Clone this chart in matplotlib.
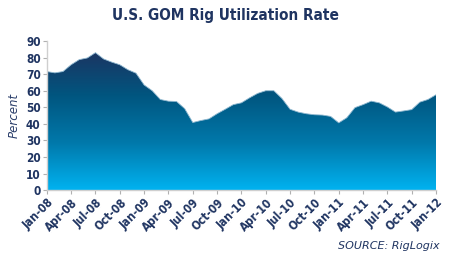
import numpy as np
import matplotlib
matplotlib.use("Agg")
import matplotlib.pyplot as plt
from matplotlib.colors import LinearSegmentedColormap

# monthly utilization, Jan-08 .. Jan-12 (percent)
util = [71.6, 70.8, 71.6, 75.7, 78.8, 79.8, 83.0, 79.2, 77.3, 75.7, 72.7, 70.6,
        63.5, 60.0, 54.7, 53.7, 53.5, 49.2, 40.8, 42.0, 43.0, 46.1, 48.8, 51.6,
        52.7, 55.7, 58.4, 60.0, 60.0, 55.3, 48.8, 47.1, 46.1, 45.5, 45.3, 44.5,
        40.6, 43.7, 49.8, 51.6, 53.7, 52.7, 50.2, 47.1, 47.8, 48.6, 53.1, 54.7,
        57.6]
tick_labels = ["Jan-08", "Apr-08", "Jul-08", "Oct-08", "Jan-09", "Apr-09",
               "Jul-09", "Oct-09", "Jan-10", "Apr-10", "Jul-10", "Oct-10",
               "Jan-11", "Apr-11", "Jul-11", "Oct-11", "Jan-12"]
yticks = [0, 10, 20, 30, 40, 50, 60, 70, 80, 90]

NAVY = "#1f3461"
months = np.arange(len(util))

fig = plt.figure(figsize=(4.5, 2.6), dpi=100)
ax = fig.add_axes([0.104, 0.269, 0.865, 0.573])

# gradient fill clipped to the area under the curve
poly = ax.fill_between(months, 0, util, color="none", lw=0)
cmap = LinearSegmentedColormap.from_list(
    "rig", ["#00b2f0", "#0079ab", "#005680", "#1d3360"])
grad = np.linspace(0, 1, 256).reshape(-1, 1)
im = ax.imshow(grad, cmap=cmap, origin="lower", aspect="auto",
               extent=[months[0], months[-1], 0, 85], zorder=1)
path = poly.get_paths()[0]
im.set_clip_path(path, transform=ax.transData)
ax.plot(months, util, color="#8fb8d0", lw=0.6, zorder=2)

ax.set_xlim(months[0], months[-1])
ax.set_ylim(0, 90)
ax.set_xticks(months[::3])
ax.set_xticklabels(tick_labels, rotation=45, ha="right", rotation_mode="anchor")
ax.set_yticks(yticks)

for lbl in ax.get_xticklabels() + ax.get_yticklabels():
    lbl.set_fontweight("bold")
    lbl.set_fontsize(8.5)
    lbl.set_color(NAVY)
    lbl.set_fontstretch("condensed")

for side in ("top", "right"):
    ax.spines[side].set_visible(False)
for side in ("left", "bottom"):
    ax.spines[side].set_color("#cfcfcf")
    ax.spines[side].set_linewidth(1.0)
ax.tick_params(axis="both", color="#b0b0b0", length=3, pad=1.5)

ax.set_ylabel("Percent", fontsize=8.5, style="italic", color="#2b3f6b", labelpad=4)

fig.text(0.5, 0.94, "U.S. GOM Rig Utilization Rate", ha="center", va="center",
         fontsize=11, fontweight="bold", color=NAVY, fontstretch="condensed")
fig.text(0.978, 0.055, "SOURCE: RigLogix", ha="right", va="center",
         fontsize=8, style="italic", color=NAVY)

fig.savefig("out.png", dpi=100)
